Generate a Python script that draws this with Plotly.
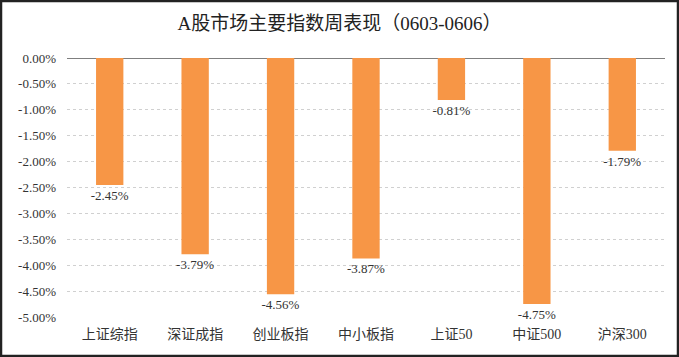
import plotly.graph_objects as go

categories = ["上证综指", "深证成指", "创业板指", "中小板指", "上证50", "中证500", "沪深300"]
values = [-2.45, -3.79, -4.56, -3.87, -0.81, -4.75, -1.79]
tick_vals = [0, -0.5, -1.0, -1.5, -2.0, -2.5, -3.0, -3.5, -4.0, -4.5, -5.0]
tick_text = [f"{v:.2f}%" for v in tick_vals]

FONT = "Liberation Serif, Noto Sans CJK SC, serif"

fig = go.Figure(
    go.Bar(
        x=categories,
        y=values,
        marker=dict(color="#F79646", line=dict(width=0)),
        width=0.32,
        text=[f"{v:.2f}%" for v in values],
        textposition="outside",
        constraintext="none",
        textfont=dict(family=FONT, size=13, color="#333333"),
        cliponaxis=False,
    )
)

fig.update_layout(
    width=679,
    height=357,
    margin=dict(l=67, r=14, t=58, b=40),
    paper_bgcolor="white",
    plot_bgcolor="white",
    showlegend=False,
    title=dict(
        text="A股市场主要指数周表现（0603-0606）",
        x=0.5,
        xanchor="center",
        y=0.935,
        yanchor="middle",
        font=dict(family=FONT, size=19, color="#222222"),
    ),
    font=dict(family=FONT, size=13, color="#333333"),
    shapes=[dict(
        type="rect", xref="paper", yref="paper",
        x0=-66/598, x1=1 + 13/598, y0=-39/259, y1=1 + 57/259,
        line=dict(color="#222222", width=2.5),
    )],
)

fig.update_xaxes(
    showgrid=False,
    showline=False,
    ticks="",
    tickfont=dict(family=FONT, size=14, color="#333333"),
    ticklabelstandoff=7,
)
fig.update_yaxes(
    range=[-5.0, 0.0],
    tickvals=tick_vals,
    ticktext=tick_text,
    showgrid=True,
    gridcolor="#d0d0d0",
    griddash="dot",
    gridwidth=1,
    zeroline=True,
    zerolinecolor="#7f7f7f",
    zerolinewidth=1,
    showline=False,
    ticks="",
    tickfont=dict(family=FONT, size=13, color="#333333"),
    ticklabelstandoff=10,
)

fig.write_html(
    "out.html",
    config={"displayModeBar": False},
    post_script="document.body.style.margin='0';document.body.style.padding='0';",
)
